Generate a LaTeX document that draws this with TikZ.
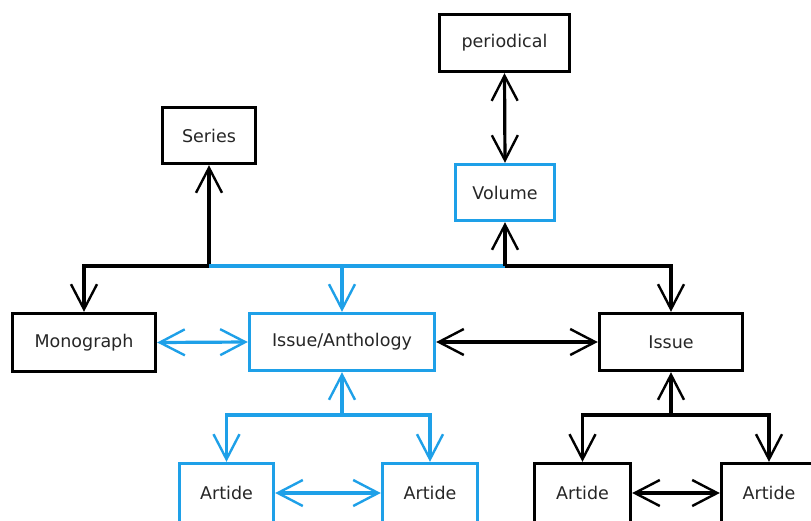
\documentclass[tikz,border=0pt]{standalone}
\usepackage{fontspec}
\setmainfont{DejaVu Sans}
\usetikzlibrary{arrows.meta}
\definecolor{myblue}{RGB}{30,160,232}
\tikzset{
  box/.style={draw=black, line width=3.4pt, inner sep=0pt, fill=white,
    font=\fontsize{17.5}{20}\selectfont, text=black!85},
  bluebox/.style={box, draw=myblue},
  con/.style={line width=3.2pt},
  vtip/.tip={Straight Barb[length=25pt, width=26pt, line width=2.4pt]}
}
\begin{document}
\begin{tikzpicture}[x=1pt,y=-1pt]
\clip (0,0) rectangle (811,520);
\fill[white] (0,0) rectangle (811,520);
% nodes
\node[box, minimum width=130pt, minimum height=57pt] (per) at (504.5,43) {periodical};
\node[box, minimum width=93pt, minimum height=56pt] (ser) at (209,135.5) {Series};
\node[bluebox, minimum width=99pt, minimum height=56pt] (vol) at (505,192.5) {Volume};
\node[box, minimum width=143pt, minimum height=58pt] (mono) at (84,342.5) {Monograph};
\node[bluebox, minimum width=185pt, minimum height=57pt] (ia) at (342,342) {Issue/Anthology};
\node[box, minimum width=143pt, minimum height=57pt] (iss) at (671,342) {Issue};
\node[bluebox, minimum width=94pt, minimum height=59pt] (a1) at (226.5,493) {Artide};
\node[bluebox, minimum width=95pt, minimum height=59pt] (a2) at (430,493) {Artide};
\node[box, minimum width=96pt, minimum height=59pt] (a3) at (582.5,493) {Artide};
\node[box, minimum width=95pt, minimum height=59pt] (a4) at (769,493) {Artide};
% junctions
\coordinate (j1) at (209,266);
\coordinate (j2) at (505,266);
\coordinate (j3) at (342,415);
\coordinate (j4) at (671,415);
% top connectors
\draw[con,-{vtip}] (j1) -- (ser.south);
\draw[con,-{vtip}] (j1) -| (mono.north);
\draw[con,myblue] (j1) -- (j2);
\draw[con,myblue,-{vtip}] (ia.north |- j1) -- (ia.north);
\draw[con,-{vtip}] (j2) -- (vol.south);
\draw[con,-{vtip}] (j2) -| (iss.north);
\draw[con,{vtip}-{vtip}] (per.south) -- (vol.north);
% middle row
\draw[con,myblue,{vtip}-{vtip}] (mono.east) -- (ia.west);
\draw[con,{vtip}-{vtip}] (ia.east) -- (iss.west);
% bottom left (blue)
\draw[con,myblue,-{vtip}] (j3) -- (ia.south);
\draw[con,myblue,-{vtip}] (j3) -| (a1.north);
\draw[con,myblue,-{vtip}] (j3) -| (a2.north);
\draw[con,myblue,{vtip}-{vtip}] (a1.east) -- (a2.west);
% bottom right (black)
\draw[con,-{vtip}] (j4) -- (iss.south);
\draw[con,-{vtip}] (j4) -| (a3.north);
\draw[con,-{vtip}] (j4) -| (a4.north);
\draw[con,{vtip}-{vtip}] (a3.east) -- (a4.west);
\end{tikzpicture}
\end{document}
